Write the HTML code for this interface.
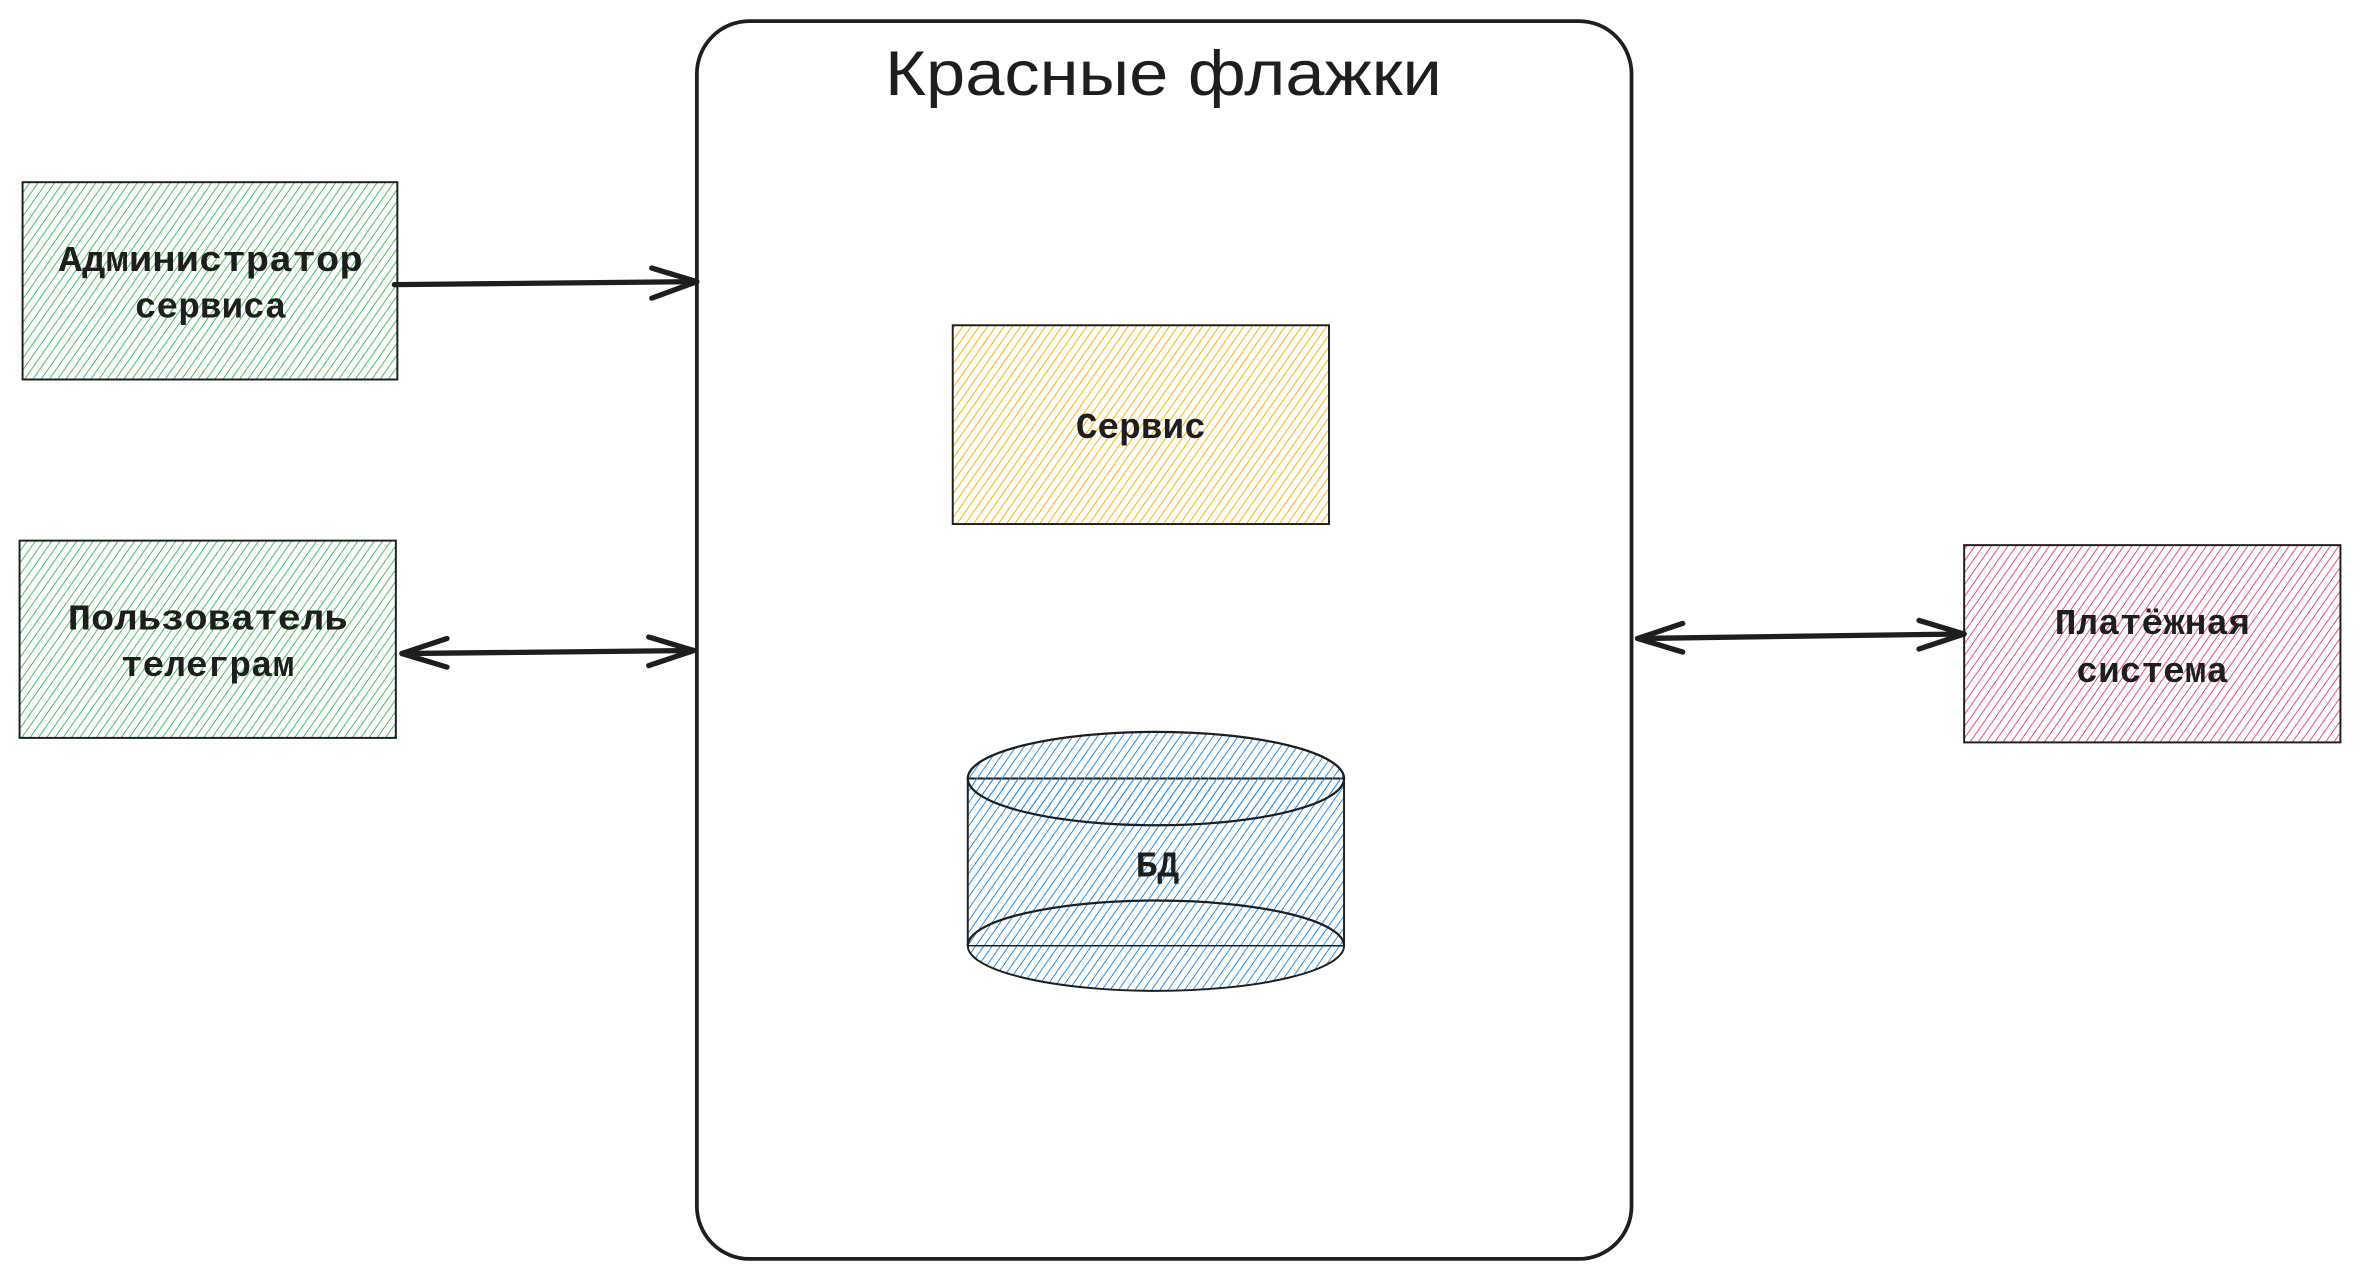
<!DOCTYPE html>
<html><head><meta charset="utf-8"><style>html,body{margin:0;padding:0;background:#fff}svg{display:block}</style></head>
<body>
<svg width="2360" height="1280" viewBox="0 0 1568 850" preserveAspectRatio="none" xmlns="http://www.w3.org/2000/svg">
<defs>
<pattern id="hg" width="4.5" height="4.5" patternUnits="userSpaceOnUse" patternTransform="rotate(35)"><line x1="0" y1="0" x2="0" y2="5" stroke="#40c057" stroke-width="1.3"/></pattern>
<pattern id="ho" width="4.5" height="4.5" patternUnits="userSpaceOnUse" patternTransform="rotate(35)"><line x1="0" y1="0" x2="0" y2="5" stroke="#fab005" stroke-width="1.3"/></pattern>
<pattern id="hb" width="4.5" height="4.5" patternUnits="userSpaceOnUse" patternTransform="rotate(35)"><line x1="0" y1="0" x2="0" y2="5" stroke="#228be6" stroke-width="1.3"/></pattern>
<pattern id="hp" width="4.5" height="4.5" patternUnits="userSpaceOnUse" patternTransform="rotate(35)"><line x1="0" y1="0" x2="0" y2="5" stroke="#e64980" stroke-width="1.3"/></pattern>
</defs>
<rect x="463" y="14" width="621" height="822" rx="35" fill="none" stroke="#1e1e1e" stroke-width="2.5"/>
<text x="588" y="63" textLength="370" lengthAdjust="spacingAndGlyphs" font-family="'Liberation Sans', sans-serif" font-size="42" fill="#1e1e1e">Красные флажки</text>

<g font-family="'Liberation Mono', monospace" font-size="24" font-weight="bold" fill="#1e1e1e" text-anchor="middle">
<rect x="15" y="121" width="249" height="131" fill="url(#hg)" stroke="#1e1e1e" stroke-width="1.3"/>
<text x="140" y="180" textLength="202" lengthAdjust="spacingAndGlyphs">Администратор</text><text x="140" y="211">сервиса</text>
<rect x="13" y="359" width="250" height="131" fill="url(#hg)" stroke="#1e1e1e" stroke-width="1.3"/>
<text x="138" y="418" textLength="186" lengthAdjust="spacingAndGlyphs">Пользователь</text><text x="138" y="449">телеграм</text>
<rect x="633" y="216" width="250" height="132" fill="url(#ho)" stroke="#1e1e1e" stroke-width="1.3"/>
<text x="758" y="291">Сервис</text>
<path d="M643 517 L643 628 A125 30 0 0 0 893 628 L893 517 Z" fill="url(#hb)" stroke="#1e1e1e" stroke-width="1.3"/>
<ellipse cx="768" cy="517" rx="125" ry="31" fill="url(#hb)" stroke="#1e1e1e" stroke-width="1.5"/>
<path d="M643 628 A125 30 0 0 1 893 628" fill="none" stroke="#1e1e1e" stroke-width="1.5"/>
<line x1="643" y1="628" x2="893" y2="628" stroke="#1e1e1e" stroke-width="1"/>
<text x="769" y="582">БД</text>
<rect x="1305" y="362" width="250" height="131" fill="url(#hp)" stroke="#1e1e1e" stroke-width="1.3"/>
<text x="1430" y="421">Платёжная</text><text x="1430" y="453">система</text>
</g>

<g stroke="#1e1e1e" stroke-width="3.5" fill="none" stroke-linecap="round" stroke-linejoin="round">
<line x1="262" y1="189" x2="463" y2="187"/>
<polyline points="433,178 463,187 433,198"/>
<line x1="267" y1="434" x2="461" y2="432"/>
<polyline points="431,423 461,432 431,442"/>
<polyline points="297,424 267,434 297,443"/>
<line x1="1088" y1="424" x2="1305" y2="421"/>
<polyline points="1118,414 1088,424 1118,433"/>
<polyline points="1275,412 1305,421 1275,431"/>
</g>
</svg>
</body></html>
